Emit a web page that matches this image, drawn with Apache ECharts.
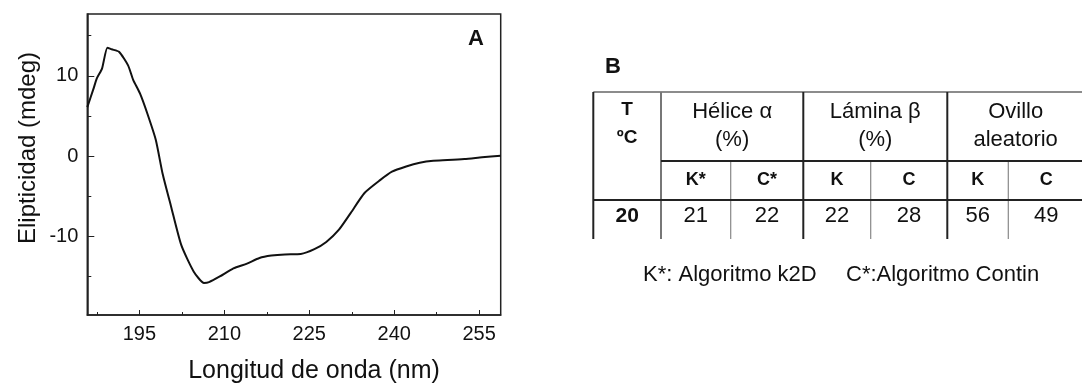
<!DOCTYPE html>
<html>
<head>
<meta charset="utf-8">
<script src="https://cdn.jsdelivr.net/npm/echarts@6/dist/echarts.min.js"></script>
<style>
  html, body { margin: 0; padding: 0; background: #fff; }
  #chart { width: 1082px; height: 385px; }
</style>
</head>
<body>
<div id="chart"></div>
<script>
// espectro de dicroismo circular (panel A)
var wavelength = [185.8, 186.9, 187.5, 188.4, 189.35, 190.1, 191.4, 193.0, 193.9, 195.1,
    196.4, 197.9, 199.1, 200.6, 202.4, 204.6, 206.4, 207.3, 209.2, 211.6,
    214.0, 216.2, 218.3, 220.7, 223.5, 225.9, 228.0, 230.2, 232.3, 234.75,
    237.5, 239.6, 242.1, 244.5, 246.9, 249.4, 252.4, 255.5, 258.8];
var ellipticity = [6.1, 8.4, 9.7, 10.9, 13.5, 13.3, 13.0, 11.3, 9.5, 7.8,
    5.3, 2.0, -2.2, -6.3, -11.1, -14.4, -15.8, -15.7, -15.0, -14.0,
    -13.4, -12.7, -12.4, -12.25, -12.2, -11.6, -10.7, -9.2, -7.1, -4.6,
    -3.0, -1.95, -1.3, -0.83, -0.58, -0.5, -0.37, -0.16, 0.04];

var xLabelTicks = [195, 210, 225, 240, 255];
var xMinorTicks = [187.5, 202.5, 217.5, 232.5, 247.5];
var yLabelTicks = [-10, 0, 10];
var yMinorTicks = [-15, -5, 5, 15];

// tabla (panel B)
var groupHeaders = [['Hélice α', '(%)'], ['Lámina β', '(%)'], ['Ovillo', 'aleatorio']];
var subHeaders = ['K*', 'C*', 'K', 'C', 'K', 'C'];
var tempLabel = ['T', 'ºC'];
var tempValue = '20';
var rowValues = [21, 22, 22, 28, 56, 49];
var footnotes = ['K*: Algoritmo k2D', 'C*:Algoritmo Contin'];

var myChart = echarts.init(document.getElementById('chart'));
var FONT = 'Liberation Sans, Arial, sans-serif';

var points = wavelength.map(function (w, i) { return [w, ellipticity[i]]; });

// layout de la tabla
var colEdges = [593.3, 661, 730.7, 803.3, 870.7, 947.3, 1008.3, 1084];
var tTop = 92, tHead = 161, tSub = 200, tBottom = 239;

function line(x1, y1, x2, y2, color, w) {
    return {
        type: 'line', silent: true,
        shape: { x1: x1, y1: y1, x2: x2, y2: y2 },
        style: { stroke: color, lineWidth: w }
    };
}
function txt(s, x, y, size, bold, align) {
    return {
        type: 'text', silent: true, x: x, y: y,
        style: {
            text: s, fill: '#111', font: (bold ? 'bold ' : '') + size + 'px ' + FONT,
            textAlign: align || 'center', textVerticalAlign: 'middle'
        }
    };
}

var graphics = [];
graphics.push(txt('A', 476, 39, 22, true));
graphics.push(txt('B', 613, 67, 22, true));

// lineas
graphics.push(line(colEdges[0], tTop, 1082, tTop, '#666', 1.5));
graphics.push(line(colEdges[0], tTop, colEdges[0], tBottom, '#222', 2));
graphics.push(line(colEdges[1], tTop, colEdges[1], tBottom, '#777', 2));
graphics.push(line(colEdges[3], tTop, colEdges[3], tBottom, '#222', 2));
graphics.push(line(colEdges[5], tTop, colEdges[5], tBottom, '#222', 2));
[2, 4, 6].forEach(function (k) {
    graphics.push(line(colEdges[k], tHead, colEdges[k], tBottom, '#888', 1.2));
});
graphics.push(line(colEdges[1], tHead, 1082, tHead, '#222', 2));
graphics.push(line(colEdges[0], tSub, 1082, tSub, '#222', 2));

// textos
var tX = (colEdges[0] + colEdges[1]) / 2;
graphics.push(txt(tempLabel[0], tX, 110, 19, true));
graphics.push(txt(tempLabel[1], tX, 138, 19, true));
graphics.push(txt(tempValue, tX, 216, 21, true));
groupHeaders.forEach(function (g, i) {
    var cx = (colEdges[1 + 2 * i] + colEdges[3 + 2 * i]) / 2;
    graphics.push(txt(g[0], cx, 112, 22, false));
    graphics.push(txt(g[1], cx, 140, 22, false));
});
subHeaders.forEach(function (s, i) {
    var cx = (colEdges[1 + i] + colEdges[2 + i]) / 2;
    graphics.push(txt(s, cx, 180, 18, true));
    graphics.push(txt(String(rowValues[i]), cx, 216, 22, false));
});
graphics.push(txt(footnotes[0], 643, 275, 22, false, 'left'));
graphics.push(txt(footnotes[1], 846, 275, 22, false, 'left'));

var labelStyle = { color: '#111', fontFamily: FONT, fontSize: 20 };
var axisLineStyle = { onZero: false, lineStyle: { color: '#222', width: 1.5 } };

option = {
    backgroundColor: '#fff',
    animation: false,
    grid: {
        left: 87.3, right: 1082 - 500.7, top: 14, bottom: 385 - 315,
        outerBoundsMode: 'none',
        show: true, borderColor: '#222', borderWidth: 1.5
    },
    xAxis: [{
        type: 'value', min: 185.8, max: 258.8,
        name: 'Longitud de onda (nm)', nameLocation: 'middle', nameGap: 44,
        nameTextStyle: { color: '#111', fontFamily: FONT, fontSize: 25, padding: [0, 0, 0, 40] },
        axisLine: axisLineStyle,
        axisTick: { inside: true, length: 5, lineStyle: { color: '#222' }, customValues: xLabelTicks },
        axisLabel: Object.assign({ margin: 9, customValues: xLabelTicks }, labelStyle),
        splitLine: { show: false }
    }, {
        type: 'value', min: 185.8, max: 258.8, position: 'bottom',
        axisLine: { show: false, onZero: false },
        axisTick: { inside: true, length: 3, lineStyle: { color: '#222' }, customValues: xMinorTicks },
        axisLabel: { show: false },
        splitLine: { show: false }
    }],
    yAxis: [{
        type: 'value', min: -19.8, max: 17.7,
        name: 'Elipticidad (mdeg)', nameLocation: 'middle', nameGap: 47,
        nameTextStyle: { color: '#111', fontFamily: FONT, fontSize: 24, padding: [0, 0, 0, 33] },
        axisLine: axisLineStyle,
        axisTick: { inside: true, length: 7, lineStyle: { color: '#222' }, customValues: yLabelTicks },
        axisLabel: Object.assign({ margin: 9, customValues: yLabelTicks }, labelStyle),
        splitLine: { show: false }
    }, {
        type: 'value', min: -19.8, max: 17.7, position: 'left',
        axisLine: { show: false, onZero: false },
        axisTick: { inside: true, length: 4, lineStyle: { color: '#222' }, customValues: yMinorTicks },
        axisLabel: { show: false },
        splitLine: { show: false }
    }],
    series: [{
        type: 'line',
        data: points,
        xAxisIndex: 0, yAxisIndex: 0,
        showSymbol: false,
        smooth: 0.2,
        lineStyle: { color: '#111', width: 2 }
    }],
    graphic: graphics
};

myChart.setOption(option);
</script>
</body>
</html>
